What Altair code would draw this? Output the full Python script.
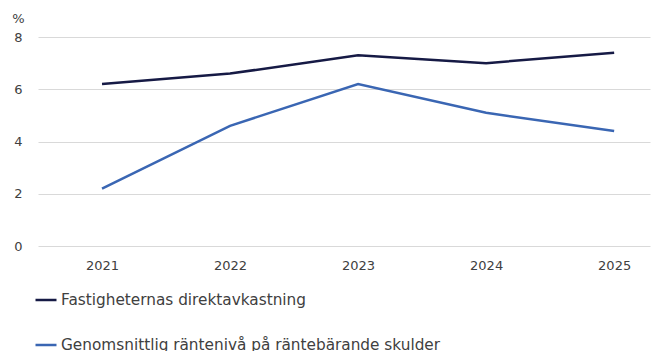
import altair as alt
import pandas as pd

years = [2021, 2022, 2023, 2024, 2025]
series_names = ["Fastigheternas direktavkastning", "Genomsnittlig räntenivå på räntebärande skulder"]
direktavkastning = [6.2, 6.6, 7.3, 7.0, 7.4]
rantenivå = [2.2, 4.6, 6.2, 5.1, 4.4]
colors = ["#161a45", "#3a66b3"]

rows = []
for name, vals in zip(series_names, [direktavkastning, rantenivå]):
    for y, v in zip(years, vals):
        rows.append({"År": y, "Värde": v, "Serie": name})
df = pd.DataFrame(rows)

FONT = "DejaVu Sans"
TXT = "#404040"

chart = alt.Chart(df).mark_line(strokeWidth=2.5).encode(
    x=alt.X("År:Q", scale=alt.Scale(domain=[2020.5, 2025.28], nice=False, zero=False),
            axis=alt.Axis(values=years, format="d", title=None, grid=False, domain=False,
                          ticks=False, labelPadding=13, labelFontSize=13, labelColor=TXT,
                          labelFont=FONT, labelFlush=False)),
    y=alt.Y("Värde:Q", scale=alt.Scale(domain=[0, 8], nice=False),
            axis=alt.Axis(values=[0, 2, 4, 6, 8], title="%", titleAngle=0, titleX=-14, titleY=-15,
                          titleAlign="right", titleBaseline="alphabetic", titleFontWeight="normal",
                          titleFontSize=13, titleColor=TXT, titleFont=FONT,
                          domain=False, ticks=False, labelPadding=16, labelFontSize=13,
                          labelColor=TXT, labelFont=FONT, gridColor="#d9d9d9", gridWidth=1)),
    color=alt.Color("Serie:N", scale=alt.Scale(domain=series_names, range=colors),
                    legend=alt.Legend(title=None, orient="none", legendX=-4, legendY=251,
                                      direction="vertical", symbolType="stroke", symbolSize=441,
                                      symbolStrokeWidth=2.5, labelFontSize=15.3, labelFont=FONT,
                                      labelColor=TXT, labelOffset=3, rowPadding=24,
                                      labelLimit=600)),
).properties(
    width=612, height=209,
    autosize=alt.AutoSizeParams(type="none"),
    padding={"left": 38, "top": 37, "right": 1, "bottom": 105},
).configure_view(stroke=None)

chart.save("out.html", embed_options={"renderer": "svg", "actions": False})
